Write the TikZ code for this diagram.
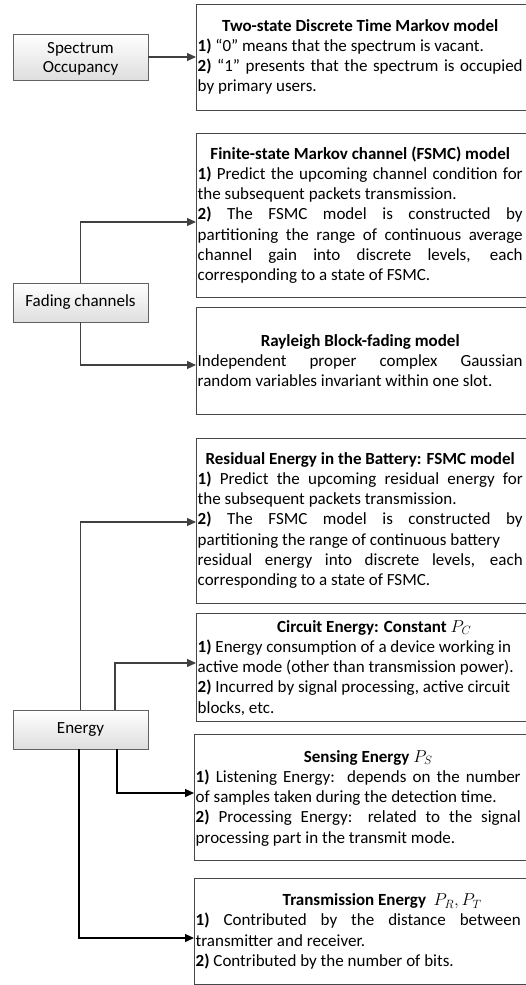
\documentclass[tikz,border=0pt]{standalone}
\usepackage{fontspec}
\setmainfont{Carlito}
\usetikzlibrary{arrows.meta}
\newcommand\JL[1]{\hbox to\hsize{#1}}
\newcommand\RL[1]{\hbox to\hsize{#1\hfil}}
\newcommand\TL[2][0pt]{\hbox to\hsize{\hfil\hspace*{#1}#2\hfil}}
\newcommand\BX[1]{\vtop{\hsize=325pt #1}}
\begin{document}
\begin{tikzpicture}[x=1pt,y=-1pt,
  font=\fontsize{17pt}{20.3pt}\selectfont,
  rbox/.style={draw=black!72,line width=1pt,anchor=north west,inner sep=0pt,outer sep=0pt},
  lbox/.style={draw=black!62,line width=1pt,top color=white,bottom color=black!13,
    minimum width=135pt,inner sep=0pt,outer sep=0pt,align=center},
  txt/.style={anchor=base west,inner sep=0pt},
  conn/.style={draw=black!75,line width=1.1pt,-{Triangle[length=9pt,width=8pt]}},
  connb/.style={draw=black,line width=1.4pt,-{Triangle[length=9pt,width=8pt]}}]
\useasboundingbox (0,0) rectangle (526,985);
\clip (0,0) rectangle (526,985);
% right boxes
\node[rbox,minimum width=335pt,minimum height=106pt] (b1) at (196,4) {};
\node[rbox,minimum width=335pt,minimum height=164pt] (b2) at (196,133) {};
\node[rbox,minimum width=335pt,minimum height=107pt] (b3) at (196,307) {};
\node[rbox,minimum width=335pt,minimum height=165pt] (b4) at (196,438) {};
\node[rbox,minimum width=335pt,minimum height=108pt] (b5) at (196,613) {};
\node[rbox,minimum width=337pt,minimum height=126pt] (b6) at (194,734) {};
\node[rbox,minimum width=337pt,minimum height=106pt] (b7) at (194,878) {};
% left boxes
\node[lbox,minimum height=46pt] (sp) at (80.5,57) {};
\node[inner sep=0pt,align=center,font=\fontsize{17pt}{19pt}\selectfont] (spt) at (80.5,58.5) {Spectrum\\Occupancy};
\node[lbox,minimum height=39pt] (fd) at (80.5,302.5) {Fading channels};
\node[lbox,minimum height=39pt] (en) at (80.5,729.5) {Energy};
% texts
\node[txt] (t1) at (197.5,31) {\BX{%
\TL{\textbf{Two-state Discrete Time Markov model}}
\RL{\textbf{1)} “0” means that the spectrum is vacant.}
\JL{\textbf{2)} “1” presents that the spectrum is occupied}
\RL{by primary users.}}};
\node[txt] (t2) at (197.5,159) {\BX{%
\TL{\textbf{Finite-state Markov channel (FSMC) model}}
\JL{\textbf{1)} Predict the upcoming channel condition for}
\RL{the subsequent packets transmission.}
\JL{\textbf{2)} The FSMC model is constructed by}
\JL{partitioning the range of continuous average}
\JL{channel gain into discrete levels, each}
\RL{corresponding to a state of FSMC.}}};
\node[txt] (t3) at (197.5,346) {\BX{%
\TL{\textbf{Rayleigh Block-fading model}}
\JL{Independent proper complex Gaussian}
\RL{random variables invariant within one slot.}}};
\node[txt] (t4) at (197.5,464) {\BX{%
\TL{\textbf{Residual Energy in the Battery: FSMC model}}
\JL{\textbf{1)} Predict the upcoming residual energy for}
\RL{the subsequent packets transmission.}
\JL{\textbf{2)} The FSMC model is constructed by}
\RL{partitioning the range of continuous battery}
\JL{residual energy into discrete levels, each}
\RL{corresponding to a state of FSMC.}}};
\node[txt] (t5) at (197.5,632) {\BX{%
\TL[28pt]{\textbf{Circuit Energy: Constant} $P_C$}
\RL{\textbf{1)} Energy consumption of a device working in}
\RL{active mode (other than transmission power).}
\RL{\textbf{2)} Incurred by signal processing, active circuit}
\RL{blocks, etc.}}};
\node[txt] (t6) at (195.5,762) {\BX{%
\TL[20pt]{\textbf{Sensing Energy} $P_S$}
\JL{\textbf{1)} Listening Energy:\ \ depends on the number}
\RL{of samples taken during the detection time.}
\JL{\textbf{2)} Processing Energy: related to the signal}
\RL{processing part in the transmit mode.}}};
\node[txt] (t7) at (195.5,905.5) {\BX{%
\TL[48pt]{\textbf{Transmission Energy}\ \ $P_R, P_T$}
\JL{\textbf{1)} Contributed by the distance between}
\RL{transmitter and receiver.}
\RL{\textbf{2)} Contributed by the number of bits.}}};
% arrow end points
\coordinate (a2) at (196,222);
\coordinate (a3) at (196,365);
\coordinate (a4) at (196,522);
\coordinate (a5) at (196,663);
\coordinate (a6) at (194,793);
\coordinate (a7) at (194,938);
% connectors
\draw[conn] (sp.east) -- (b1.west);
\draw[conn] (fd.north) |- (a2);
\draw[conn] (fd.south) |- (a3);
\draw[conn] (en.north) |- (a4);
\draw[conn] ([xshift=34.5pt]en.north) |- (a5);
\draw[connb] ([xshift=-1.5pt]en.south) |- (a7);
\draw[connb] ([xshift=36.5pt]en.south) |- (a6);
\end{tikzpicture}
\end{document}
